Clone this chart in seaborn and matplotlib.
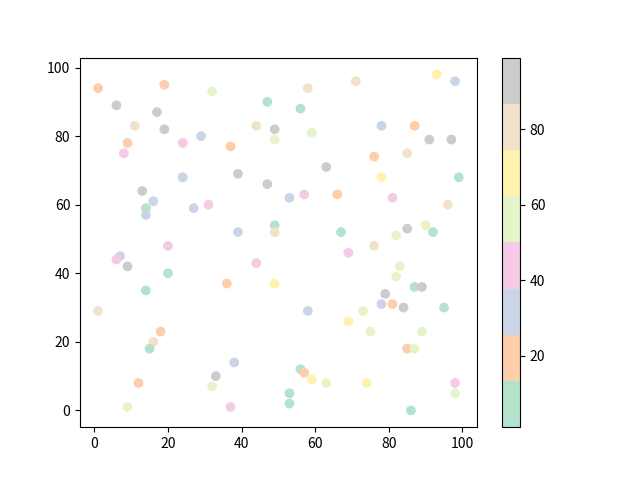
import matplotlib
matplotlib.use("Agg")
import matplotlib.pyplot as plt
import seaborn as sns
import pandas as pd

plt.rcParams["font.family"] = ["Noto Sans CJK SC", "DejaVu Sans"]

# point positions
xs = [1, 6, 9, 8, 11, 17, 19, 19, 32, 29,
      24, 13, 16, 14, 14, 24, 27, 31, 37, 39,
      44, 47, 49, 49, 47, 56, 58, 59, 63, 53,
      57, 71, 66, 76, 78, 78, 87, 85, 91, 97,
      93, 98, 99, 81, 96, 90, 92, 85, 82, 76,
      69, 67, 49, 49, 39, 20, 7, 6, 9, 20,
      14, 44, 36, 49, 83, 82, 79, 78, 81, 84,
      87, 89, 95, 73, 69, 58, 75, 89, 1, 18,
      16, 15, 12, 9, 33, 32, 38, 37, 56, 57,
      59, 63, 53, 53, 74, 85, 87, 86, 98, 98]
ys = [94, 89, 78, 75, 83, 87, 95, 82, 93, 80,
      78, 64, 61, 59, 57, 68, 59, 60, 77, 69,
      83, 90, 82, 79, 66, 88, 94, 81, 71, 62,
      63, 96, 63, 74, 83, 68, 83, 75, 79, 79,
      98, 96, 68, 62, 60, 54, 52, 53, 51, 48,
      46, 52, 54, 52, 52, 48, 45, 44, 42, 40,
      35, 43, 37, 37, 42, 39, 34, 31, 31, 30,
      36, 36, 30, 29, 26, 29, 23, 23, 29, 23,
      20, 18, 8, 1, 10, 7, 14, 1, 12, 11,
      9, 8, 5, 2, 8, 18, 18, 0, 8, 5]
# colour value of each point (Pastel2 bins)
vals = [19, 93, 19, 44, 80, 93, 19, 93, 56, 31,
        44, 93, 31, 7, 31, 31, 31, 44, 19, 93,
        80, 7, 93, 56, 93, 7, 80, 56, 93, 31,
        44, 80, 19, 19, 31, 68, 19, 80, 93, 99,
        68, 31, 7, 44, 80, 56, 7, 93, 56, 80,
        44, 7, 7, 80, 31, 44, 31, 44, 93, 7,
        7, 44, 19, 68, 56, 56, 93, 31, 19, 93,
        7, 93, 7, 56, 68, 31, 56, 56, 80, 19,
        80, 7, 19, 56, 93, 56, 31, 44, 7, 19,
        68, 56, 7, 7, 68, 19, 56, 1, 44, 56]

df = pd.DataFrame({"x": xs, "y": ys, "v": vals})
cmap = plt.get_cmap("Pastel2")
norm = plt.Normalize(min(vals), max(vals))

fig, ax = plt.subplots(figsize=(6.4, 4.8), dpi=100)
sns.scatterplot(data=df, x="x", y="y", hue="v", palette=cmap, hue_norm=norm,
                s=36, edgecolor="face", linewidth=1, legend=False, ax=ax)
ax.set_xlabel("")
ax.set_ylabel("")
sm = plt.cm.ScalarMappable(cmap=cmap, norm=norm)
fig.colorbar(sm, ax=ax)
fig.savefig("out.png")
